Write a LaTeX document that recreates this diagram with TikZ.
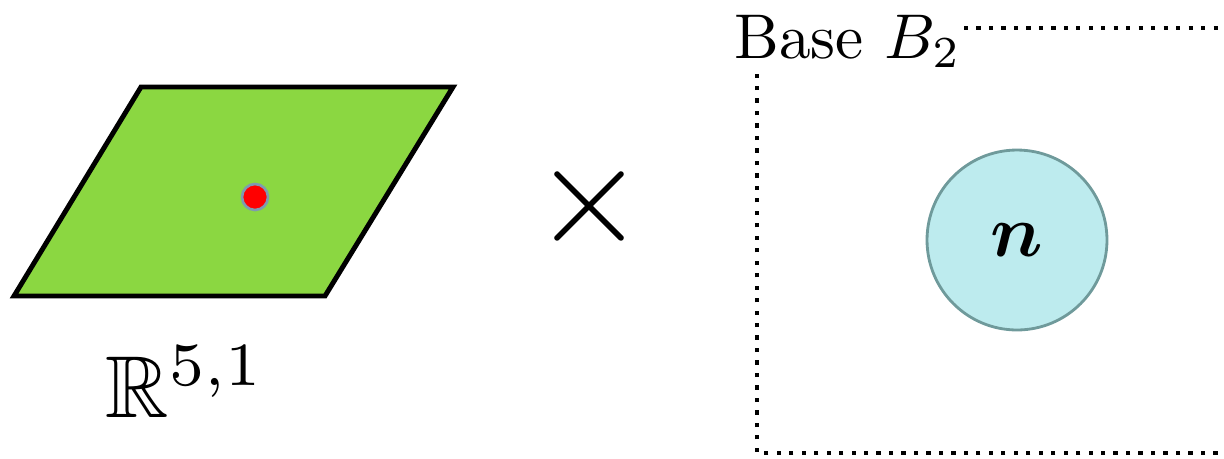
\documentclass[tikz,border=0pt]{standalone}
\usepackage{amssymb}
\usepackage{amsmath}
\usepackage{xcolor}
\usepackage{tikz}
\definecolor{SheetGreen}{HTML}{8BD741}
\definecolor{PointRed}{HTML}{FF0000}
\definecolor{PointRim}{HTML}{7F9AB0}
\definecolor{FiberFill}{HTML}{BDEBEE}
\definecolor{FiberRim}{HTML}{6F9A9B}
\tikzset{
  sheet/.style={
    draw=black,
    fill=SheetGreen,
    line width=2.8pt,
    line join=miter
  },
  point/.style={
    circle,
    draw=PointRim,
    fill=PointRed,
    line width=1.5pt,
    minimum size=0.52cm,
    inner sep=0pt
  },
  fiber/.style={
    circle,
    draw=FiberRim,
    fill=FiberFill,
    line width=1.6pt,
    minimum size=3.6cm,
    inner sep=0pt
  },
  basebox/.style={
    draw=black,
    line width=2.4pt,
    dash pattern=on 2.4pt off 4.7pt
  }
}

\begin{document}
\begin{tikzpicture}[x=0.02cm, y=-0.02cm]
  \useasboundingbox (0,0) rectangle (1224,458);
  % flat space with a point on it
  \draw[sheet] (14,296) -- (325,296) -- (453,87) -- (141,87) -- cycle;
  \node[point] (pt) at (255,197) {};
  \node[anchor=base west, inner sep=0pt, scale=5] (rlabel) at (104,417) {$\mathbb{R}^{5,1}$};
  % product sign
  \node[scale=8.2, inner sep=0pt] (times) at (590,206) {$\times$};
  % base with the fiber
  \node[anchor=base west, inner sep=0pt, scale=3.6] (baselabel) at (733,58) {Base $B_2$};
  \begin{scope}
    \clip (0,0) rectangle (1224,458);
    \draw[basebox] (964,28) -- (1240,28) -- (1240,453) -- (757,453) -- (757,72);
  \end{scope}
  \node[fiber] (nfib) at (1017,240) {};
  \node[scale=4.2, inner sep=0pt] (nlabel) at (nfib) {$\boldsymbol{n}$};
\end{tikzpicture}
\end{document}
